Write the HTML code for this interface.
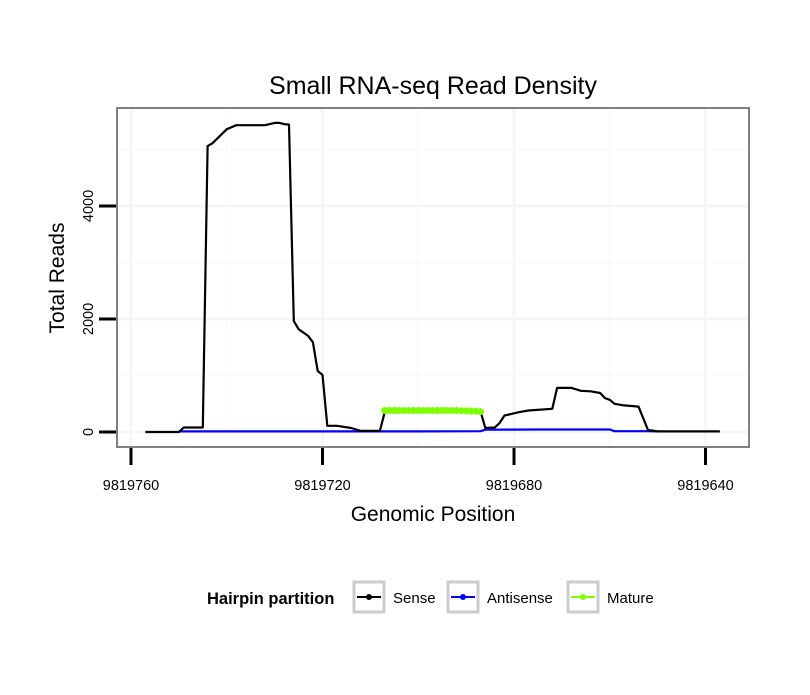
<!DOCTYPE html>
<html><head><meta charset="utf-8"><style>
body{margin:0;background:#fff;font-family:"Liberation Sans",sans-serif}
</style></head><body>
<svg id="chart" width="810" height="690" xmlns="http://www.w3.org/2000/svg" font-family="Liberation Sans, sans-serif">
<rect width="810" height="690" fill="#fff"/>
<text x="433" y="94" font-size="25" text-anchor="middle">Small RNA-seq Read Density</text>
<g id="grid"></g>
<g id="series"></g>
<rect x="117" y="108" width="632" height="339" fill="none" stroke="#808080" stroke-width="2"/>
<g id="axes"></g>
<text x="433" y="521" font-size="21" text-anchor="middle">Genomic Position</text>
<text transform="translate(64,278) rotate(-90)" font-size="21" text-anchor="middle">Total Reads</text>
<g>
<text x="207" y="604" font-size="16.5" font-weight="bold">Hairpin partition</text>
<g>
<rect x="354" y="582" width="30" height="30" fill="#fff" stroke="#ccc" stroke-width="3"/>
<line x1="357" y1="597" x2="381" y2="597" stroke="#000" stroke-width="2"/><circle cx="369" cy="597" r="3" fill="#000"/>
<text x="393" y="603" font-size="15">Sense</text></g>
<g>
<rect x="448" y="582" width="30" height="30" fill="#fff" stroke="#ccc" stroke-width="3"/>
<line x1="451" y1="597" x2="475" y2="597" stroke="#0000ff" stroke-width="2"/><circle cx="463" cy="597" r="3" fill="#0000ff"/>
<text x="487" y="603" font-size="15">Antisense</text></g>
<g>
<rect x="568" y="582" width="30" height="30" fill="#fff" stroke="#ccc" stroke-width="3"/>
<line x1="571" y1="597" x2="595" y2="597" stroke="#7fff00" stroke-width="2"/><circle cx="583" cy="597" r="3" fill="#7fff00"/>
<text x="607" y="603" font-size="15">Mature</text></g>
</g>
</svg>
<script>
const xTicks = [9819760, 9819720, 9819680, 9819640];
const yTicks = [0, 2000, 4000];
const senseX = [9819757,9819750,9819749,9819745,9819744,9819743,9819740,9819738,9819732,9819730,9819729,9819728,9819727,9819726,9819725,9819723,9819722,9819721,9819720,9819719,9819717,9819714,9819712,9819708,9819707,9819687,9819686,9819684,9819683,9819682,9819679,9819677,9819672,9819671,9819668,9819666,9819664,9819662,9819661,9819660,9819659,9819657,9819654,9819652,9819650,9819637];
const senseY = [0,0,80,80,5060,5110,5360,5430,5430,5470,5470,5450,5440,1965,1820,1700,1590,1080,1010,110,110,70,20,20,350,370,70,80,160,290,350,380,410,780,780,730,720,690,600,570,500,470,450,35,10,10];
const antiX = [9819750,9819700,9819687,9819686,9819675,9819660,9819659,9819652,9819650];
const antiY = [10,10,15,40,45,45,15,15,10];
const matureX = [9819707,9819706,9819705,9819704,9819703,9819702,9819701,9819700,9819699,9819698,9819697,9819696,9819695,9819694,9819693,9819692,9819691,9819690,9819689,9819688,9819687];
const matureY = [380,380,380,380,380,380,380,380,380,380,380,380,380,380,380,380,375,375,370,370,360];

const NS="http://www.w3.org/2000/svg";
const xs = v => 131 + (9819760 - v) * 4.7875;
const ys = v => 432 - v * 0.0565;
const grid = document.getElementById('grid');
const axes = document.getElementById('axes');
const series = document.getElementById('series');
function mk(tag, attrs, parent){const e=document.createElementNS(NS,tag);for(const k in attrs)e.setAttribute(k,attrs[k]);parent.appendChild(e);return e;}
const gx=[...xTicks]; for(let i=0;i<xTicks.length-1;i++) gx.push((xTicks[i]+xTicks[i+1])/2);
gx.forEach(v=>{const X=xs(v); if(X>117&&X<749){const l=mk('line',{x1:X,x2:X,y1:108,y2:447,stroke:v%40===0?'#f5f5f5':'#f9f9f9','stroke-width':v%40===0?2.5:1.5},grid);

}});
[0,1000,2000,3000,4000,5000].forEach(v=>{const Y=ys(v); const l=mk('line',{x1:117,x2:749,y1:Y,y2:Y,stroke:v%2000===0?'#f5f5f5':'#f9f9f9','stroke-width':v%2000===0?2.5:1.5},grid);

});
xTicks.forEach(v=>{const X=xs(v);
const t=mk('line',{x1:X,x2:X,y1:448,y2:465,stroke:'#000','stroke-width':3},axes);


const tx=mk('text',{x:X,y:490,'font-size':14.5,'text-anchor':'middle'},axes);tx.textContent=v;

});
yTicks.forEach(v=>{const Y=ys(v);
const t=mk('line',{x1:99,x2:116,y1:Y,y2:Y,stroke:'#000','stroke-width':3},axes);


const tx=mk('text',{transform:`translate(${93},${Y}) rotate(-90)`,'font-size':14.5,'text-anchor':'middle'},axes);tx.textContent=v;

});
function line(xa,ya,color,w,name){const d=xa.map((v,i)=>(i?'L':'M')+xs(v).toFixed(1)+','+ys(ya[i]).toFixed(1)).join('');
const p=mk('path',{d,fill:'none',stroke:color,'stroke-width':w,'stroke-linejoin':'round'},series);

}
line(antiX,antiY,'#0000ff',2.2,'antisense-line');
line(senseX,senseY,'#000',2.2,'sense-line');
line(matureX,matureY,'#7fff00',3,'mature-line');
matureX.forEach((v,i)=>{const c=mk('circle',{cx:xs(v),cy:ys(matureY[i]),r:3.5,fill:'#7fff00'},series);

});
</script>
</body></html>
